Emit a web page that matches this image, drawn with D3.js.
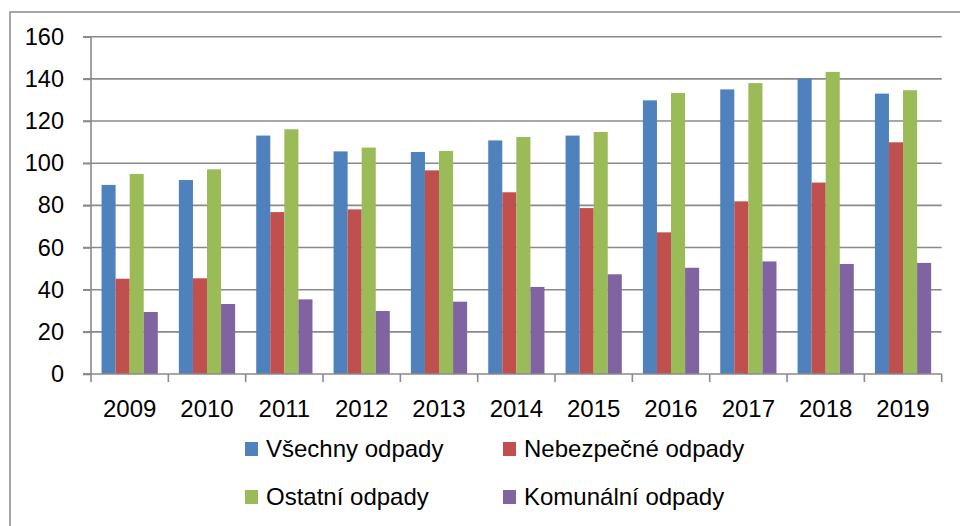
<!DOCTYPE html>
<html><head><meta charset="utf-8">
<script src="https://cdn.jsdelivr.net/npm/d3@7"></script>
<style>body{margin:0;background:#fff}svg{display:block}text{font-family:"Liberation Sans",Arial,sans-serif;fill:#000}</style>
</head><body><svg id="c" width="960" height="526"></svg>
<script>
const years = ["2009","2010","2011","2012","2013","2014","2015","2016","2017","2018","2019"];
const seriesNames = ["Všechny odpady","Nebezpečné odpady","Ostatní odpady","Komunální odpady"];
const vsechny   = [89.7, 92.0, 113.1, 105.6, 105.3, 110.8, 113.1, 129.8, 135.0, 140.1, 133.0];
const nebezpecne= [45.2, 45.4, 76.8, 78.1, 96.6, 86.2, 78.7, 67.2, 81.9, 90.8, 109.9];
const ostatni   = [94.9, 97.1, 116.1, 107.4, 105.8, 112.4, 114.8, 133.3, 138.0, 143.3, 134.6];
const komunalni = [29.4, 33.2, 35.4, 29.9, 34.3, 41.3, 47.3, 50.4, 53.4, 52.2, 52.7];
const yTicks = [0,20,40,60,80,100,120,140,160];
const colors = ["#4F81BD","#C0504D","#9BBB59","#8064A2"];
const values = [vsechny, nebezpecne, ostatni, komunalni];

const svg = d3.select("#c");
const L = 91, R = 941.7, T = 36.7, B = 374;
const grid = "#8a8a8a";

svg.append("rect").attr("x",10).attr("y",12).attr("width",980).attr("height",540)
  .attr("fill","none").attr("stroke",grid).attr("stroke-width",1.5);

const x0 = d3.scaleBand().domain(years).range([L,R]).padding(0);
const gapRatio = 1.5/5.5/2;
const x1 = d3.scaleBand().domain(d3.range(4)).range([x0.bandwidth()*gapRatio, x0.bandwidth()*(1-gapRatio)]).padding(0);
const y = d3.scaleLinear().domain([0,160]).range([B,T]);

// gridlines
svg.append("g").selectAll("line").data(yTicks.filter(d=>d>0)).join("line")
  .attr("x1",L-8).attr("x2",R).attr("y1",d=>y(d)).attr("y2",d=>y(d))
  .attr("stroke",grid).attr("stroke-width",1.6);

// bars
const g = svg.append("g");
years.forEach((yr,i)=>{
  values.forEach((arr,s)=>{
    g.append("rect").attr("x",x0(yr)+x1(s)).attr("width",x1.bandwidth())
     .attr("y",y(arr[i])).attr("height",B-y(arr[i])).attr("fill",colors[s]);
  });
});

// y axis
const ya = svg.append("g").attr("transform",`translate(${L},0)`)
  .call(d3.axisLeft(y).tickValues(yTicks).tickSize(8).tickPadding(19).tickFormat(d3.format("d")));
ya.select(".domain").attr("stroke",grid).attr("stroke-width",1.6).attr("d",`M-8,${B}H0V${T}`);
ya.selectAll(".tick line").attr("stroke",grid).attr("stroke-width",1.6);
ya.selectAll("text").attr("font-size",23.5).attr("fill","#000").attr("font-family","Liberation Sans, Arial, sans-serif");

// x axis
const xa = svg.append("g").attr("transform",`translate(0,${B})`);
xa.append("line").attr("x1",L-8).attr("x2",R).attr("y1",0).attr("y2",0).attr("stroke",grid).attr("stroke-width",1.6);
const bounds = years.map(d=>x0(d)).concat([R]);
xa.selectAll("line.t").data(bounds).join("line").attr("class","t")
  .attr("x1",d=>d).attr("x2",d=>d).attr("y1",0).attr("y2",8).attr("stroke",grid).attr("stroke-width",1.6);
xa.selectAll("text").data(years).join("text")
  .attr("x",d=>x0(d)+x0.bandwidth()/2).attr("y",35).attr("dy","0.35em")
  .attr("text-anchor","middle").attr("font-size",24).text(d=>d);

// legend
const legPos = [[245,449],[503,449],[245,497],[503,497]];
const lg = svg.append("g");
seriesNames.forEach((n,i)=>{
  const [lx,ly] = legPos[i];
  lg.append("rect").attr("x",lx).attr("y",ly-7).attr("width",13).attr("height",14).attr("fill",colors[i]);
  lg.append("text").attr("x",lx+21).attr("y",ly).attr("dy","0.35em").attr("font-size",24).text(n);
});
</script></body></html>
